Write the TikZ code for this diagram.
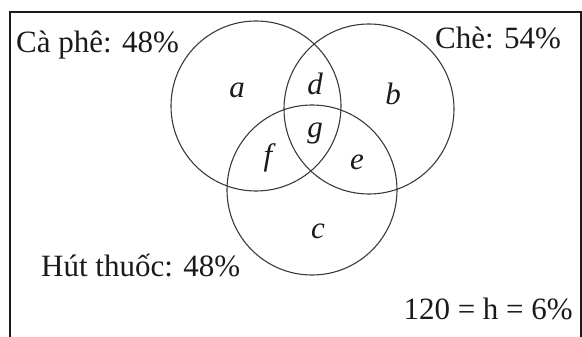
\documentclass[tikz,border=0pt]{standalone}
\usepackage{fontspec}
\setmainfont{Liberation Serif}
\usetikzlibrary{positioning}
\definecolor{Ink}{HTML}{1A1A1A}
\definecolor{Ink2}{HTML}{3A3A3A}

\begin{document}
\begin{tikzpicture}[
  x=1pt, y=-1pt,
  set/.style={draw=Ink2, line width=1.1pt, circle, minimum size=170pt, inner sep=0pt},
  region/.style={font=\fontsize{31}{34}\selectfont\itshape, text=Ink, inner sep=0pt},
  lbl/.style={font=\fontsize{31}{34}\selectfont, text=Ink, inner sep=0pt},
  frame/.style={draw=Ink, line width=1.3pt}
]
\useasboundingbox (0,0) rectangle (582,337);
% frame (open at the bottom)
\draw[frame] (10,337) -- (10,12) -- (581,12) -- (581,337);

% sets
\node[set] (caphe) at (256,106) {};
\node[set] (che) at (369,109) {};
\node[set] (thuoc) at (312,190) {};

% regions
\node[region] (ra) at (237,90) {a};
\node[region] (rd) at (315,84) {d};
\node[region] (rb) at (393,94) {b};
\node[region] (rg) at (315,134) {g};
\node[region] (rf) at (268,158) {f};
\node[region] (re) at (357,162) {e};
\node[region] (rc) at (318,231) {c};

% set names
\node[lbl, anchor=base west] (tcaphe) at (16,53) {Cà phê: 48\%};
\node[lbl, anchor=base west] (tche) at (435,49) {Chè: 54\%};
\node[lbl, anchor=base west] (tthuoc) at (41,276) {Hút thuốc: 48\%};
\node[lbl, anchor=base east] (tngoai) at (573,319) {120 = h = 6\%};
\end{tikzpicture}
\end{document}
